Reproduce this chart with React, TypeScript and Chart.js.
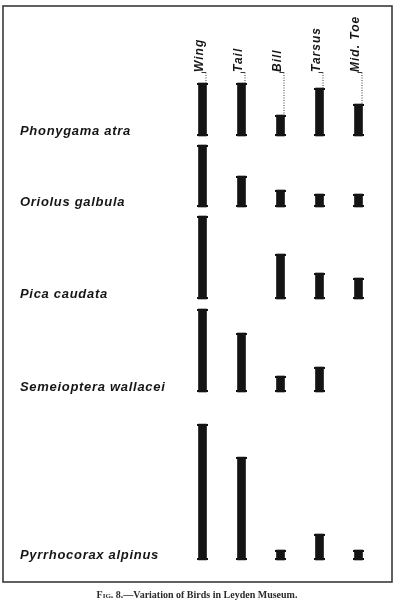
import React, { useEffect, useRef } from "react";
import { Chart, registerables } from "chart.js";

Chart.register(...registerables);

// ---- data -------------------------------------------------------------
const measures = ["Wing", "Tail", "Bill", "Tarsus", "Mid. Toe"];
const species = [
  "Phonygama atra",
  "Oriolus galbula",
  "Pica caudata",
  "Semeioptera wallacei",
  "Pyrrhocorax alpinus",
];
// range of variation per measure (same order as `measures`), null = not drawn
const phonygama = [53, 53, 21, 48, 32];
const oriolus = [62, 31, 17, 13, 13];
const pica = [83, null, 45, 26, 21];
const semeioptera = [83, 59, 16, 25, null];
const pyrrhocorax = [136, 103, 10, 26, 10];
const caption = "Fig. 8.—Variation of Birds in Leyden Museum.";

const variation: (number | null)[][] = [phonygama, oriolus, pica, semeioptera, pyrrhocorax];

// ---- layout (not data) --------------------------------------------------
const BAND_GAPS = [77, 9, 9, 10, 32];
const Y_MAX = 576;
const INK = "#141414";

function bandBaselines(): number[] {
  let acc = 0;
  return variation.map((row, i) => {
    const vals = row.filter((v) => v != null) as number[];
    acc += BAND_GAPS[i] + Math.max(...vals);
    return acc;
  });
}

const decorPlugin = {
  id: "decor",
  afterDatasetsDraw(chart: any) {
    const ctx: CanvasRenderingContext2D = chart.ctx;
    const area = chart.chartArea;
    const yScale = chart.scales.y;
    const baselines = bandBaselines();

    ctx.save();
    // serif caps on each bar
    ctx.fillStyle = INK;
    chart.data.datasets.forEach((_: any, di: number) => {
      const meta = chart.getDatasetMeta(di);
      meta.data.forEach((el: any, j: number) => {
        if (variation[di][j] == null) return;
        const top = Math.min(el.y, el.base);
        const bot = Math.max(el.y, el.base);
        const w = el.width + 3;
        ctx.fillRect(el.x - w / 2, top, w, 2);
        ctx.fillRect(el.x - w / 2, bot - 2, w, 2);
      });
    });

    // frame
    ctx.strokeStyle = "#3a3a3a";
    ctx.lineWidth = 1.6;
    ctx.strokeRect(3, area.top, 389, area.bottom - area.top);

    // column headers with leaders
    const first = chart.getDatasetMeta(0);
    ctx.font = 'italic bold 12px "Liberation Sans", Arial, sans-serif';
    (ctx as any).letterSpacing = "1px";
    const yb = 72;
    measures.forEach((m, j) => {
      const el: any = first.data[j];
      const cx = el.x - 3;
      const barTop = Math.min(el.y, el.base);
      const right = el.x + el.width / 2 - 0.5;
      ctx.save();
      ctx.translate(cx, yb);
      ctx.rotate(-Math.PI / 2);
      ctx.textAlign = "left";
      ctx.textBaseline = "middle";
      ctx.fillStyle = "#161616";
      ctx.fillText(m, 0, 0);
      ctx.restore();
      ctx.strokeStyle = "#3a3a3a";
      ctx.lineWidth = 1;
      ctx.setLineDash([]);
      ctx.beginPath();
      ctx.moveTo(cx + 2, yb + 0.5);
      ctx.lineTo(right, yb + 0.5);
      ctx.stroke();
      ctx.setLineDash([1, 1.5]);
      ctx.beginPath();
      ctx.moveTo(right, yb + 0.5);
      ctx.lineTo(right, barTop);
      ctx.stroke();
    });
    ctx.setLineDash([]);

    // species labels
    ctx.font = 'italic bold 13px "Liberation Sans", Arial, sans-serif';
    (ctx as any).letterSpacing = "0.7px";
    ctx.fillStyle = "#161616";
    ctx.textAlign = "left";
    ctx.textBaseline = "alphabetic";
    species.forEach((s, i) => {
      const y = yScale.getPixelForValue(baselines[i]);
      ctx.fillText(s, 20, y - 1);
    });

    // caption
    (ctx as any).letterSpacing = "0px";
    const head = caption.slice(0, 4);
    const rest = caption.slice(4);
    const f1 = 'normal small-caps bold 10px "Liberation Serif", serif';
    const f2 = 'bold 10px "Liberation Serif", serif';
    ctx.font = f1;
    const w1 = ctx.measureText(head).width;
    ctx.font = f2;
    const w2 = ctx.measureText(rest).width;
    const x0 = 197 - (w1 + w2) / 2;
    ctx.fillStyle = "#2a2a2a";
    ctx.font = f1;
    ctx.fillText(head, x0, 598);
    ctx.font = f2;
    ctx.fillText(rest, x0 + w1, 598);
    ctx.restore();
  },
};

export default function App() {
  const ref = useRef<HTMLCanvasElement | null>(null);

  useEffect(() => {
    if (!ref.current) return;
    const baselines = bandBaselines();
    const chart = new Chart(ref.current, {
      type: "bar",
      data: {
        labels: measures,
        datasets: species.map((s, i) => ({
          label: s,
          data: variation[i].map((v) =>
            v == null ? null : [baselines[i] - v, baselines[i]]
          ) as any,
          backgroundColor: INK,
          borderWidth: 0,
          grouped: false,
          barThickness: 8,
        })),
      },
      options: {
        responsive: false,
        animation: false,
        layout: { padding: { left: 183, right: 22, top: 6, bottom: 25 } },
        scales: {
          x: { type: "category", display: false, offset: true },
          y: { type: "linear", display: false, reverse: true, min: 0, max: Y_MAX },
        },
        plugins: {
          legend: { display: false },
          tooltip: { enabled: false },
          title: { display: false },
        },
      },
      plugins: [decorPlugin],
    });
    return () => chart.destroy();
  }, []);

  return (
    <div style={{ position: "absolute", left: 0, top: 0, width: 400, height: 607, background: "#fff" }}>
      <canvas ref={ref} width={400} height={607} style={{ display: "block" }} />
    </div>
  );
}
